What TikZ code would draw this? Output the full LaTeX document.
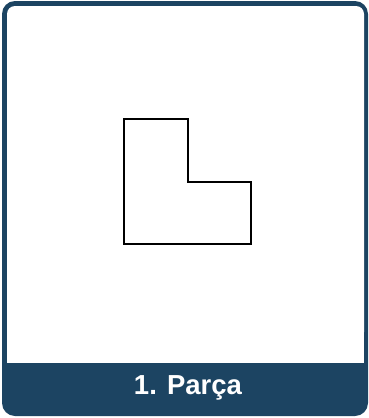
\documentclass[tikz,border=0pt]{standalone}
\usepackage{fontspec}
\setmainfont{Liberation Sans}
\definecolor{cardblue}{HTML}{1C4462}
\begin{document}
\begin{tikzpicture}[x=1pt,y=-1pt]
			\newcommand{\mylabelfont}[1]{
				\fontsize{27.5}{32}\selectfont\bfseries{#1}
			}%Bounding box of the card
			\useasboundingbox (0,0) rectangle (369,418);
			%Outer card (dark blue frame and bottom band)
			\coordinate (cardTL) at (2,1);
			\coordinate (cardBR) at (368,416);
			\fill [cardblue, rounded corners=13pt] (cardTL) rectangle (cardBR);
			%White area of the card, rounded at the top only
			\coordinate (innerTL) at (7,6);
			\coordinate (innerMid) at (364,340);
			\coordinate (innerLow) at (7,30);
			\coordinate (innerBR) at (364,362.5);
			\fill [white, rounded corners=8pt] (innerTL) rectangle (innerMid);
			\fill [white] (innerLow) rectangle (innerBR);
			%The piece (L shape)
			\coordinate (p0) at (124,118.5);
			\coordinate (p1) at (187.5,118.5);
			\coordinate (p2) at (187.5,182);
			\coordinate (p3) at (250.5,182);
			\coordinate (p4) at (250.5,244);
			\coordinate (p5) at (124,244);
			\draw [line width=2pt] (p0) -- (p1) -- (p2) -- (p3) -- (p4) -- (p5) -- cycle;
			%Label in the band
			\coordinate (labelBase) at (188,394);
			\node [white, inner sep=0pt, anchor=base] (label) at (labelBase) {\mylabelfont{1. Parça}};
\end{tikzpicture}
\end{document}
